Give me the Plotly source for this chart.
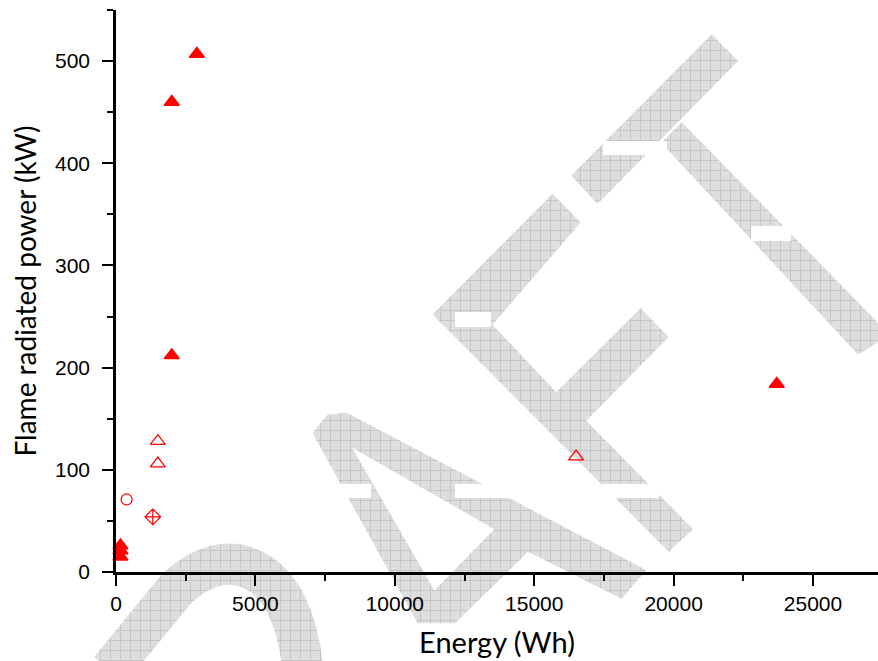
import base64
import plotly.graph_objects as go

# ---------------- data ----------------
filled_tri_x = [2900, 2000, 2000, 23700, 160, 160, 160]
filled_tri_y = [507, 460, 212, 184, 26, 21, 15]

open_tri_x = [1500, 1500, 16500]
open_tri_y = [128, 106, 113]

open_circle_x = [380]
open_circle_y = [71]

diamond_x = [1320]
diamond_y = [54]

x_tick_vals = [0, 5000, 10000, 15000, 20000, 25000]
y_tick_vals = [0, 100, 200, 300, 400, 500]

RED = "#ff0000"
W, H = 878, 661
ML, MR, MT, MB = 116, 0, 10, 89
PW, PH = W - ML - MR, H - MT - MB

# ---------------- "DRAFT" watermark (decoration, figure pixel space) ----------------
def z(px, py):
    return (290 + px / 2.667, 20 + py / 2.445)

def poly(pts):
    return "M" + " L".join(f"{x:.1f},{y:.1f}" for x, y in (z(*p) for p in pts)) + " Z"

t_bar = [(750, 380), (1125, 35), (1195, 100), (820, 450)]
t_stem = [(990, 300), (1045, 250), (1600, 770), (1515, 818)]
f_shape = [(380, 720), (700, 425), (775, 495), (540, 745), (710, 910), (935, 705),
           (1010, 775), (790, 980), (1075, 1245), (1010, 1300)]
a_outer = [(60, 1010), (100, 965), (150, 960), (950, 1345), (885, 1415), (635, 1300),
           (440, 1475), (340, 1475)]
a_hole = [(165, 1045), (545, 1245), (385, 1395)]

white_rects = [(603, 141, 64, 14), (751, 226, 40, 15), (455, 312, 36, 15),
               (339, 484, 32, 14), (455, 484, 60, 14), (603, 484, 56, 14)]

paths = [poly(t_bar), poly(t_stem), poly(f_shape), poly(a_outer) + " " + poly(a_hole)]
svg = [f'<svg xmlns="http://www.w3.org/2000/svg" width="{W}" height="{H}" viewBox="0 0 {W} {H}">',
       '<defs><pattern id="h" width="10" height="10" patternUnits="userSpaceOnUse">'
       '<rect width="10" height="10" fill="#dedede"/>'
       '<path d="M0,0.5 H10 M0.5,0 V10" stroke="#c6c6c6" stroke-width="1"/>'
       '</pattern></defs>']
for d in paths:
    svg.append(f'<path d="{d}" fill="url(#h)" fill-rule="evenodd"/>')
svg.append('<path d="M110,670 L177,588 Q222,548 262,575 Q296,600 303,670" '
           'fill="none" stroke="url(#h)" stroke-width="41"/>')
for x, y, w, h in white_rects:
    svg.append(f'<rect x="{x}" y="{y}" width="{w}" height="{h}" fill="white"/>')
svg.append("</svg>")
svg_uri = "data:image/svg+xml;base64," + base64.b64encode("".join(svg).encode()).decode()

# ---------------- figure ----------------
fig = go.Figure()
fig.add_trace(go.Scatter(x=filled_tri_x, y=filled_tri_y, mode="markers", cliponaxis=False,
                         marker=dict(symbol="triangle-up", size=13, color=RED,
                                     line=dict(color=RED, width=1.5)), showlegend=False))
fig.add_trace(go.Scatter(x=open_tri_x, y=open_tri_y, mode="markers", cliponaxis=False,
                         marker=dict(symbol="triangle-up-open", size=13, color=RED,
                                     line=dict(color=RED, width=1.3)), showlegend=False))
fig.add_trace(go.Scatter(x=open_circle_x, y=open_circle_y, mode="markers", cliponaxis=False,
                         marker=dict(symbol="circle-open", size=11, color=RED,
                                     line=dict(color=RED, width=1.2)), showlegend=False))
fig.add_trace(go.Scatter(x=diamond_x, y=diamond_y, mode="markers", cliponaxis=False,
                         marker=dict(symbol="diamond-cross-open", size=12, color=RED,
                                     line=dict(color=RED, width=1.2)), showlegend=False))

axis_common = dict(showline=True, linecolor="black", linewidth=2.5, mirror=False,
                   showgrid=False, zeroline=False, ticks="outside", ticklen=11,
                   tickwidth=2, tickcolor="black", automargin=False,
                   tickfont=dict(family="Liberation Sans, Arial", size=21, color="black"))

fig.update_xaxes(range=[0, 27330], tickvals=x_tick_vals,
                 ticktext=[str(v) for v in x_tick_vals],
                 minor=dict(dtick=2500, ticklen=6, tickwidth=2, tickcolor="black", ticks="outside"),
                 title=dict(text="Energy (Wh)", standoff=19,
                            font=dict(family="Lato, Noto Sans", size=29, color="black")),
                 **axis_common)
fig.update_yaxes(range=[0, 550], tickvals=y_tick_vals,
                 ticktext=[str(v) for v in y_tick_vals], ticklabelstandoff=8,
                 minor=dict(dtick=50, ticklen=6, tickwidth=2, tickcolor="black", ticks="outside"),
                 title=dict(text="Flame radiated power (kW)", standoff=11,
                            font=dict(family="Lato, Noto Sans", size=28, color="black")),
                 **axis_common)

fig.add_layout_image(dict(source=svg_uri, xref="paper", yref="paper",
                          x=-ML / PW, y=1 + MT / PH, sizex=W / PW, sizey=H / PH,
                          xanchor="left", yanchor="top", sizing="stretch", layer="below"))

fig.update_layout(width=W, height=H, margin=dict(l=ML, r=MR, t=MT, b=MB),
                  plot_bgcolor="white", paper_bgcolor="white")

fig.write_html("out.html", config={"displayModeBar": False},
               post_script="document.body.style.margin='0';"
                           "document.documentElement.style.overflow='hidden';")
